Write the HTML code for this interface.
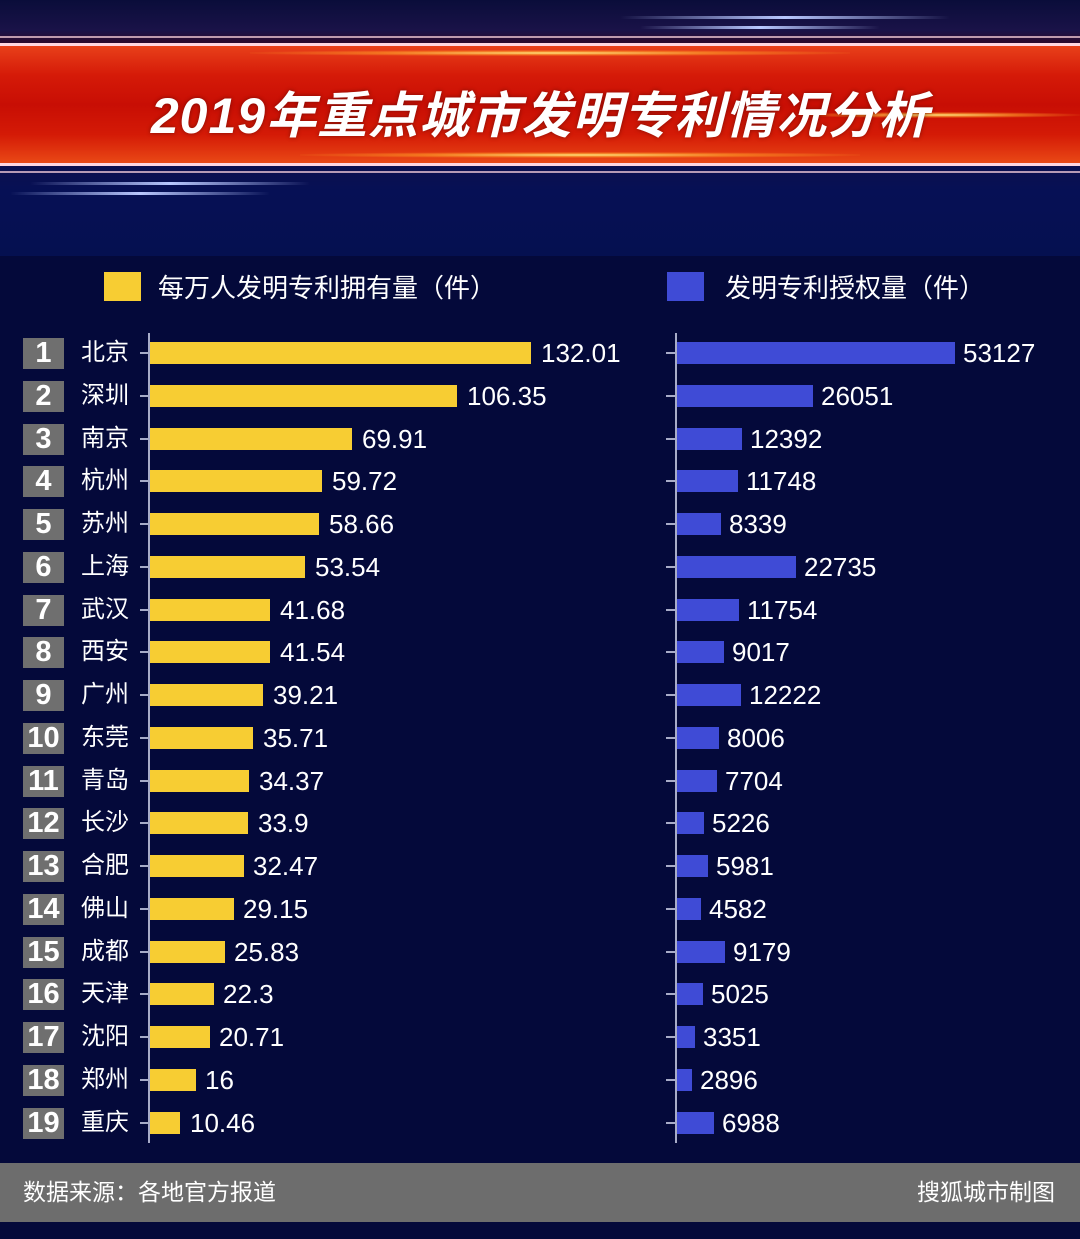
<!DOCTYPE html>
<html><head><meta charset="utf-8"><style>
*{margin:0;padding:0;box-sizing:border-box}
body{width:1080px;height:1239px;background:#04093a;position:relative;overflow:hidden;font-family:"Liberation Sans","Noto Sans CJK SC",sans-serif;color:#fff}
.hdr{position:absolute;left:0;top:0;width:1080px;height:256px;background:linear-gradient(180deg,#0a0d3a 0%,#1a1248 12%,#2a0a30 16%,#061055 75%,#051050 100%)}
.band{position:absolute;left:0;top:46px;width:1080px;height:118px;background:linear-gradient(180deg,#e8401a 0%,#d51a08 25%,#c80e04 50%,#d41a06 75%,#ea4a16 100%)}
.glow{position:absolute;height:6px;border-radius:3px;background:radial-gradient(ellipse at center,#ffe27a 0%,rgba(255,160,40,.6) 40%,rgba(255,100,0,0) 75%)}
.wl{position:absolute;left:0;width:1080px;background:#ffd6e0}
.bl{position:absolute;height:3px;border-radius:2px;background:linear-gradient(90deg,rgba(80,120,255,0),#b9c8ff 50%,rgba(80,120,255,0))}
.title{position:absolute;left:0;width:1080px;top:76px;text-align:center;font-size:50px;font-weight:bold;font-style:italic;letter-spacing:1px;text-shadow:0 0 4px rgba(0,0,0,.4)}
.lg{position:absolute;font-size:26px;top:268px}
.sq{position:absolute;width:37px;height:29px;top:272px}
.ax{position:absolute;width:2px;top:333px;height:810px;background:#a8acc8}
.row{position:absolute;left:0;width:1080px;height:42px}
.rk{position:absolute;left:23px;top:6px;width:41px;height:31px;background:#6f6f6f;font-weight:bold;font-size:29px;line-height:31px;text-align:center}
.nm{position:absolute;left:81px;top:4px;font-size:24px;line-height:34px}
.tk{position:absolute;height:2px;width:9px;top:20px;background:#a8acc8}
.y{position:absolute;left:150px;top:10px;height:22px;background:#f7cd33}
.b{position:absolute;left:677px;top:10px;height:22px;background:#3f4bd6}
.v{position:absolute;top:4px;font-size:26px;line-height:34px}
.ft{position:absolute;left:0;top:1163px;width:1080px;height:59px;background:#6d6d6d;font-size:23px;line-height:59px}
</style></head><body>
<div class="hdr">
<div class="bl" style="left:620px;top:16px;width:330px"></div>
<div class="bl" style="left:640px;top:26px;width:240px"></div>
<div class="wl" style="top:36px;height:2px;opacity:.7"></div>
<div class="band"></div>
<div class="wl" style="top:43px;height:3px"></div>
<div class="glow" style="left:250px;top:50px;width:600px"></div>
<div class="glow" style="left:300px;top:152px;width:560px"></div>
<div class="glow" style="left:800px;top:112px;width:280px"></div>
<div class="wl" style="top:163px;height:3px"></div>
<div class="wl" style="top:171px;height:2px;opacity:.7"></div>
<div class="bl" style="left:30px;top:182px;width:280px"></div>
<div class="bl" style="left:10px;top:192px;width:260px"></div>
<div class="title">2019年重点城市发明专利情况分析</div>
</div>
<div class="sq" style="left:104px;background:#f7cd33"></div>
<div class="lg" style="left:158px">每万人发明专利拥有量（件）</div>
<div class="sq" style="left:667px;background:#3f4bd6"></div>
<div class="lg" style="left:725px">发明专利授权量（件）</div>
<div class="ax" style="left:148px"></div>
<div class="ax" style="left:675px"></div>

<div class="row" style="top:332px"><div class="rk">1</div><div class="nm">北京</div><div class="tk" style="left:140px"></div><div class="tk" style="left:666px"></div><div class="y" style="width:381px"></div><div class="v" style="left:541px">132.01</div><div class="b" style="width:278px"></div><div class="v" style="left:963px">53127</div></div>
<div class="row" style="top:375px"><div class="rk">2</div><div class="nm">深圳</div><div class="tk" style="left:140px"></div><div class="tk" style="left:666px"></div><div class="y" style="width:307px"></div><div class="v" style="left:467px">106.35</div><div class="b" style="width:136px"></div><div class="v" style="left:821px">26051</div></div>
<div class="row" style="top:418px"><div class="rk">3</div><div class="nm">南京</div><div class="tk" style="left:140px"></div><div class="tk" style="left:666px"></div><div class="y" style="width:202px"></div><div class="v" style="left:362px">69.91</div><div class="b" style="width:65px"></div><div class="v" style="left:750px">12392</div></div>
<div class="row" style="top:460px"><div class="rk">4</div><div class="nm">杭州</div><div class="tk" style="left:140px"></div><div class="tk" style="left:666px"></div><div class="y" style="width:172px"></div><div class="v" style="left:332px">59.72</div><div class="b" style="width:61px"></div><div class="v" style="left:746px">11748</div></div>
<div class="row" style="top:503px"><div class="rk">5</div><div class="nm">苏州</div><div class="tk" style="left:140px"></div><div class="tk" style="left:666px"></div><div class="y" style="width:169px"></div><div class="v" style="left:329px">58.66</div><div class="b" style="width:44px"></div><div class="v" style="left:729px">8339</div></div>
<div class="row" style="top:546px"><div class="rk">6</div><div class="nm">上海</div><div class="tk" style="left:140px"></div><div class="tk" style="left:666px"></div><div class="y" style="width:155px"></div><div class="v" style="left:315px">53.54</div><div class="b" style="width:119px"></div><div class="v" style="left:804px">22735</div></div>
<div class="row" style="top:589px"><div class="rk">7</div><div class="nm">武汉</div><div class="tk" style="left:140px"></div><div class="tk" style="left:666px"></div><div class="y" style="width:120px"></div><div class="v" style="left:280px">41.68</div><div class="b" style="width:62px"></div><div class="v" style="left:747px">11754</div></div>
<div class="row" style="top:631px"><div class="rk">8</div><div class="nm">西安</div><div class="tk" style="left:140px"></div><div class="tk" style="left:666px"></div><div class="y" style="width:120px"></div><div class="v" style="left:280px">41.54</div><div class="b" style="width:47px"></div><div class="v" style="left:732px">9017</div></div>
<div class="row" style="top:674px"><div class="rk">9</div><div class="nm">广州</div><div class="tk" style="left:140px"></div><div class="tk" style="left:666px"></div><div class="y" style="width:113px"></div><div class="v" style="left:273px">39.21</div><div class="b" style="width:64px"></div><div class="v" style="left:749px">12222</div></div>
<div class="row" style="top:717px"><div class="rk">10</div><div class="nm">东莞</div><div class="tk" style="left:140px"></div><div class="tk" style="left:666px"></div><div class="y" style="width:103px"></div><div class="v" style="left:263px">35.71</div><div class="b" style="width:42px"></div><div class="v" style="left:727px">8006</div></div>
<div class="row" style="top:760px"><div class="rk">11</div><div class="nm">青岛</div><div class="tk" style="left:140px"></div><div class="tk" style="left:666px"></div><div class="y" style="width:99px"></div><div class="v" style="left:259px">34.37</div><div class="b" style="width:40px"></div><div class="v" style="left:725px">7704</div></div>
<div class="row" style="top:802px"><div class="rk">12</div><div class="nm">长沙</div><div class="tk" style="left:140px"></div><div class="tk" style="left:666px"></div><div class="y" style="width:98px"></div><div class="v" style="left:258px">33.9</div><div class="b" style="width:27px"></div><div class="v" style="left:712px">5226</div></div>
<div class="row" style="top:845px"><div class="rk">13</div><div class="nm">合肥</div><div class="tk" style="left:140px"></div><div class="tk" style="left:666px"></div><div class="y" style="width:94px"></div><div class="v" style="left:253px">32.47</div><div class="b" style="width:31px"></div><div class="v" style="left:716px">5981</div></div>
<div class="row" style="top:888px"><div class="rk">14</div><div class="nm">佛山</div><div class="tk" style="left:140px"></div><div class="tk" style="left:666px"></div><div class="y" style="width:84px"></div><div class="v" style="left:243px">29.15</div><div class="b" style="width:24px"></div><div class="v" style="left:709px">4582</div></div>
<div class="row" style="top:931px"><div class="rk">15</div><div class="nm">成都</div><div class="tk" style="left:140px"></div><div class="tk" style="left:666px"></div><div class="y" style="width:75px"></div><div class="v" style="left:234px">25.83</div><div class="b" style="width:48px"></div><div class="v" style="left:733px">9179</div></div>
<div class="row" style="top:973px"><div class="rk">16</div><div class="nm">天津</div><div class="tk" style="left:140px"></div><div class="tk" style="left:666px"></div><div class="y" style="width:64px"></div><div class="v" style="left:223px">22.3</div><div class="b" style="width:26px"></div><div class="v" style="left:711px">5025</div></div>
<div class="row" style="top:1016px"><div class="rk">17</div><div class="nm">沈阳</div><div class="tk" style="left:140px"></div><div class="tk" style="left:666px"></div><div class="y" style="width:60px"></div><div class="v" style="left:219px">20.71</div><div class="b" style="width:18px"></div><div class="v" style="left:703px">3351</div></div>
<div class="row" style="top:1059px"><div class="rk">18</div><div class="nm">郑州</div><div class="tk" style="left:140px"></div><div class="tk" style="left:666px"></div><div class="y" style="width:46px"></div><div class="v" style="left:205px">16</div><div class="b" style="width:15px"></div><div class="v" style="left:700px">2896</div></div>
<div class="row" style="top:1102px"><div class="rk">19</div><div class="nm">重庆</div><div class="tk" style="left:140px"></div><div class="tk" style="left:666px"></div><div class="y" style="width:30px"></div><div class="v" style="left:190px">10.46</div><div class="b" style="width:37px"></div><div class="v" style="left:722px">6988</div></div>

<div class="ft"><span style="position:absolute;left:23px">数据来源：各地官方报道</span><span style="position:absolute;right:25px">搜狐城市制图</span></div>
</body></html>
